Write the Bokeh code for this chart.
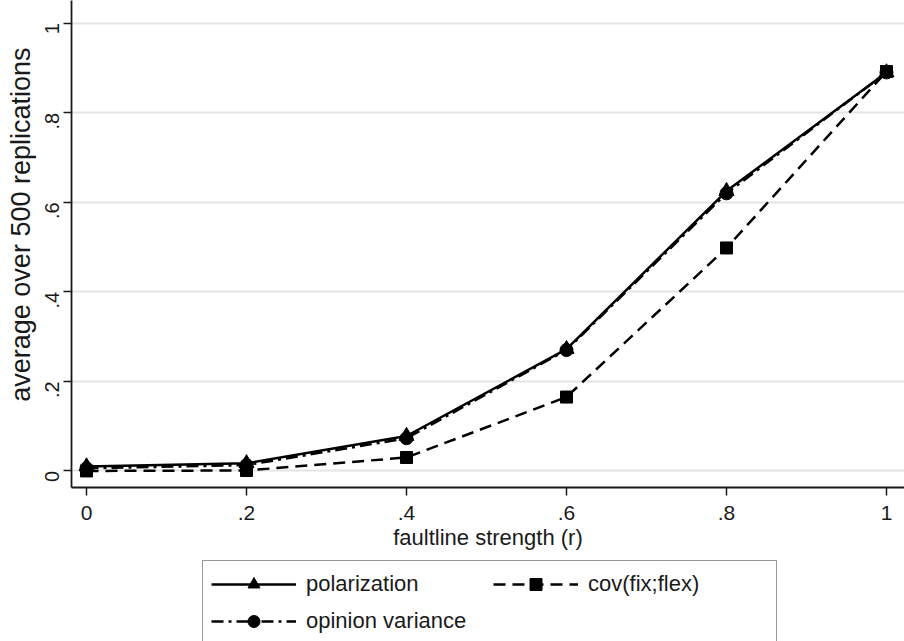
import math
from bokeh.plotting import figure
from bokeh.layouts import column
from bokeh.models import Legend, LegendItem, FixedTicker, Title
from bokeh.embed import file_html
from bokeh.resources import INLINE

# ---- data ----
strength = [0.0, 0.2, 0.4, 0.6, 0.8, 1.0]
polarization = [0.010, 0.017, 0.078, 0.272, 0.625, 0.890]
opinion_variance = [0.006, 0.013, 0.073, 0.270, 0.620, 0.890]
cov_fix_flex = [0.000, 0.001, 0.030, 0.165, 0.498, 0.892]

x_ticks = [0, 0.2, 0.4, 0.6, 0.8, 1]
x_tick_labels = ["0", ".2", ".4", ".6", ".8", "1"]
y_ticks = [0, 0.2, 0.4, 0.6, 0.8, 1]
y_tick_labels = ["0", ".2", ".4", ".6", ".8", "1"]

series_names = ["polarization", "cov(fix;flex)", "opinion variance"]

FONT = "Liberation Sans"
INK = "#1a1a1a"

STYLE = {
    "pol": dict(line=dict(line_color="black", line_width=2.5),
                mark=dict(marker="triangle", size=15, fill_color="black", line_color="black")),
    "var": dict(line=dict(line_color="black", line_width=2.5, line_dash="12 5 3 5"),
                mark=dict(marker="circle", size=13, fill_color="black", line_color="black")),
    "cov": dict(line=dict(line_color="black", line_width=2.5, line_dash="12 7"),
                mark=dict(marker="square", size=12, fill_color="black", line_color="black")),
}

p = figure(width=904, height=560, output_backend="svg", toolbar_location=None,
           x_range=(-0.01875, 1.0225), y_range=(-0.037, 1.0507),
           min_border_left=71, min_border_right=0, min_border_top=0,
           min_border_bottom=73)
p.outline_line_color = None
p.background_fill_color = "white"
p.border_fill_color = "white"

# grid
p.xgrid.grid_line_color = None
p.ygrid.grid_line_color = "#e4e4e4"
p.ygrid.grid_line_width = 2
p.ygrid.ticker = FixedTicker(ticks=y_ticks)

# axes
p.xaxis.ticker = FixedTicker(ticks=x_ticks)
p.yaxis.ticker = FixedTicker(ticks=y_ticks)
p.xaxis.major_label_overrides = {t: l for t, l in zip(x_ticks, x_tick_labels)}
p.yaxis.major_label_overrides = {t: l for t, l in zip(y_ticks, y_tick_labels)}
for ax in (p.xaxis, p.yaxis):
    ax.axis_line_color = INK
    ax.axis_line_width = 1.8
    ax.major_tick_line_color = INK
    ax.major_tick_line_width = 1.5
    ax.major_tick_in = 0
    ax.major_tick_out = 8
    ax.minor_tick_line_color = None
    ax.major_label_text_font = FONT
    ax.major_label_text_font_size = "21px"
    ax.major_label_text_color = INK
    ax.axis_label_text_font = FONT
    ax.axis_label_text_font_style = "normal"
    ax.axis_label_text_color = INK

p.xaxis.axis_label = "faultline strength (r)"
p.xaxis.axis_label_text_font_size = "22px"
p.xaxis.major_label_standoff = 10
p.xaxis.axis_label_standoff = 2

p.yaxis.major_label_orientation = math.pi / 2
p.yaxis.major_label_text_font_size = "20px"
p.yaxis.major_label_standoff = 11

ytitle = Title(text="average over 500 replications", align="right",
               offset=47, standoff=0, text_font=FONT, text_font_size="27px",
               text_font_style="normal", text_color=INK)
p.add_layout(ytitle, "left")

# series
l_pol = p.line(strength, polarization, **STYLE["pol"]["line"])
m_pol = p.scatter(strength, polarization, **STYLE["pol"]["mark"])
l_var = p.line(strength, opinion_variance, **STYLE["var"]["line"])
m_var = p.scatter(strength, opinion_variance, **STYLE["var"]["mark"])
l_cov = p.line(strength, cov_fix_flex, **STYLE["cov"]["line"])
m_cov = p.scatter(strength, cov_fix_flex, **STYLE["cov"]["mark"])

# legend strip below the chart: same series drawn far outside its view,
# only so that the legend can show their line and marker styles
q = figure(width=904, height=81, output_backend="svg", toolbar_location=None,
           x_range=(0, 1), y_range=(50, 51),
           min_border_left=0, min_border_right=0, min_border_top=0,
           min_border_bottom=0)
q.axis.visible = False
q.grid.visible = False
q.outline_line_color = None
q.background_fill_color = "white"
q.border_fill_color = "white"

lq_pol = q.line(strength, polarization, **STYLE["pol"]["line"])
mq_pol = q.scatter(strength, polarization, **STYLE["pol"]["mark"])
lq_cov = q.line(strength, cov_fix_flex, **STYLE["cov"]["line"])
mq_cov = q.scatter(strength, cov_fix_flex, **STYLE["cov"]["mark"])
lq_var = q.line(strength, opinion_variance, **STYLE["var"]["line"])
mq_var = q.scatter(strength, opinion_variance, **STYLE["var"]["mark"])

legend = Legend(items=[
    LegendItem(label=series_names[0], renderers=[lq_pol, mq_pol]),
    LegendItem(label=series_names[1], renderers=[lq_cov, mq_cov]),
    LegendItem(label=series_names[2], renderers=[lq_var, mq_var]),
], orientation="horizontal", ncols=2, location=(131, -4))
legend.label_text_font = FONT
legend.label_text_font_size = "22px"
legend.label_text_color = INK
legend.glyph_width = 85
legend.glyph_height = 30
legend.label_height = 30
legend.label_width = 180
legend.label_standoff = 10
legend.spacing = 7
legend.padding = 8
legend.margin = 0
legend.border_line_color = "#333333"
legend.border_line_width = 1.5
legend.background_fill_alpha = 1
q.add_layout(legend, "center")

layout = column(p, q, spacing=0)
open("out.html", "w").write(file_html(layout, INLINE))
